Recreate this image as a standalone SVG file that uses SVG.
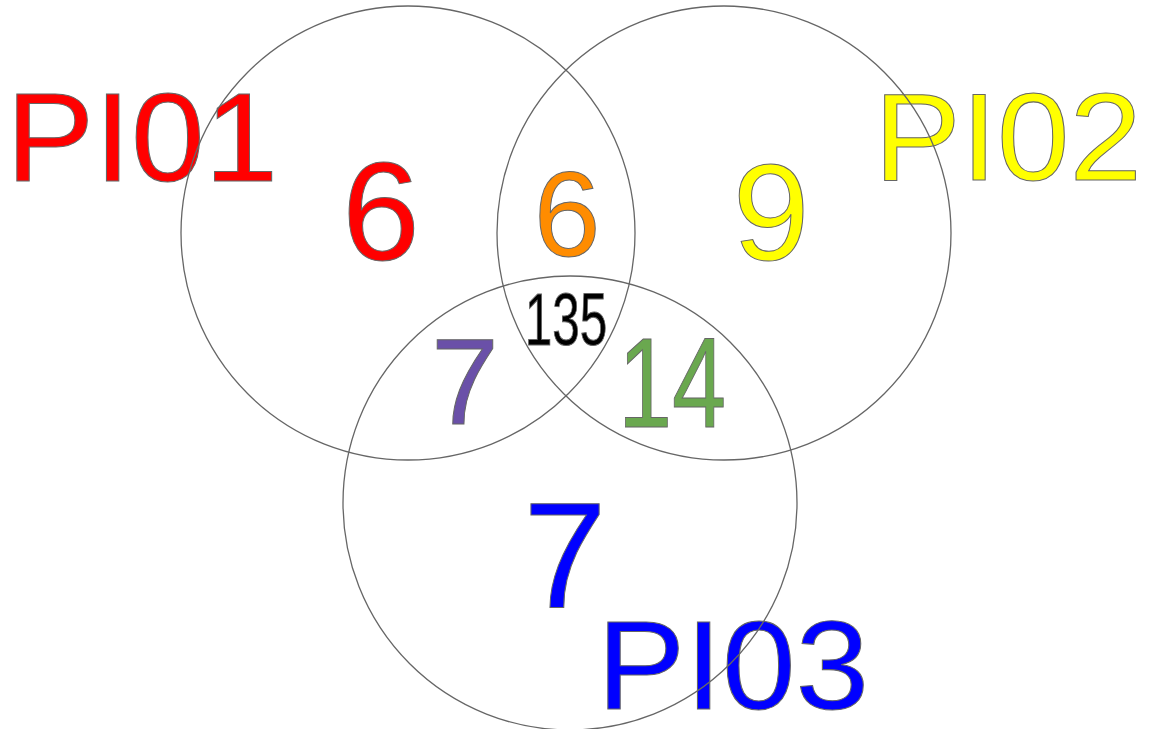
<svg xmlns="http://www.w3.org/2000/svg" width="1152" height="729" viewBox="0 0 1152 729">
<style>
text{font-family:"Liberation Sans",Arial,sans-serif;stroke:#666;stroke-width:1;text-anchor:middle}
.c{fill:none;stroke:#666;stroke-width:1.3}
</style>
<rect width="1152" height="729" fill="#fff"/>
<g id="labels">
<text transform="translate(142 181) scale(1.05 1)" font-size="126" fill="#ff0000">PI01</text>
<text transform="translate(1008 180) scale(1.05 1)" font-size="124" fill="#ffff00">PI02</text>
<text transform="translate(733 709) scale(1.05 1)" font-size="126" fill="#0000ff">PI03</text>
</g>
<g id="counts">
<text x="381" y="260" font-size="140" fill="#ff0000">6</text>
<text x="567" y="256" font-size="120" fill="#ff8c00">6</text>
<text x="771" y="260" font-size="138" fill="#ffff00">9</text>
<text transform="translate(566 345) scale(0.67 1)" font-size="74" fill="#000">135</text>
<text x="465" y="424" font-size="122" fill="#6a50a8">7</text>
<text transform="translate(672 427) scale(0.76 1)" font-size="128" fill="#6aa84f">14</text>
<text x="565" y="607" font-size="150" fill="#0000ff">7</text>
</g>
<g id="circles">
<circle id="PI01c" class="c" cx="408" cy="233" r="227"/>
<circle id="PI02c" class="c" cx="724" cy="233" r="227"/>
<circle id="PI03c" class="c" cx="570" cy="503" r="227"/>
</g>
</svg>
